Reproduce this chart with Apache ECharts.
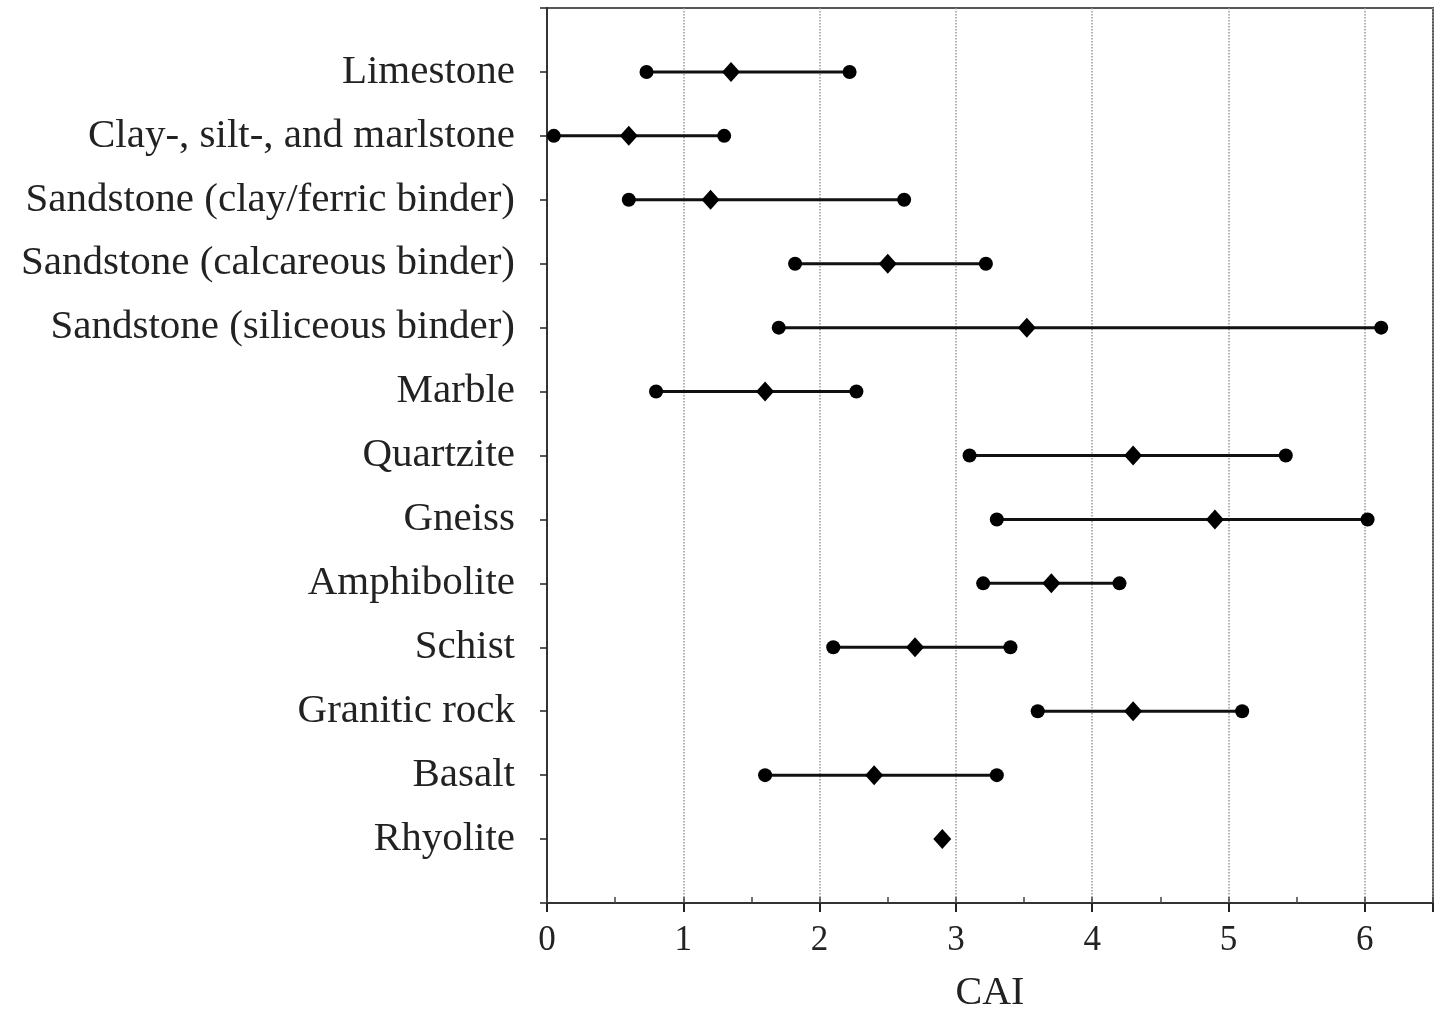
<!DOCTYPE html>
<html><head><meta charset="utf-8">
<script src="https://cdn.jsdelivr.net/npm/echarts@6/dist/echarts.min.js"></script>
<style>html,body{margin:0;padding:0;background:#fff}#c{width:1447px;height:1011px}</style>
</head><body><div id="c"></div>
<script>
const categories = ["Limestone","Clay-, silt-, and marlstone","Sandstone (clay/ferric binder)","Sandstone (calcareous binder)","Sandstone (siliceous binder)","Marble","Quartzite","Gneiss","Amphibolite","Schist","Granitic rock","Basalt","Rhyolite"];
const lowValues  = [0.73, 0.05, 0.60, 1.82, 1.70, 0.80, 3.10, 3.30, 3.20, 2.10, 3.60, 1.60, null];
const midValues  = [1.35, 0.60, 1.20, 2.50, 3.52, 1.60, 4.30, 4.90, 3.70, 2.70, 4.30, 2.40, 2.90];
const highValues = [2.22, 1.30, 2.62, 3.22, 6.12, 2.27, 5.42, 6.02, 4.20, 3.40, 5.10, 3.30, null];
const xTicks = [0,1,2,3,4,5,6];

const rangeData = [], endData = [], midData = [];
categories.forEach((c,i)=>{
  const y = i+1;
  if (lowValues[i]!=null && highValues[i]!=null) {
    rangeData.push([lowValues[i], highValues[i], y]);
    endData.push([lowValues[i], y]);
    endData.push([highValues[i], y]);
  }
  midData.push([midValues[i], y]);
});

const font = '"Liberation Serif","Times New Roman",serif';
const gridPos = {left:547,right:14,top:8,bottom:108,containLabel:false,outerBoundsMode:'none'};
const chart = echarts.init(document.getElementById('c'));
chart.setOption({
  animation:false,
  backgroundColor:'#fff',
  grid:[
    Object.assign({show:true,borderColor:'#555',borderWidth:2,backgroundColor:'transparent'},gridPos),
    Object.assign({show:false},gridPos)
  ],
  xAxis:[{
    gridIndex:0,type:'value',min:0,max:6.5,interval:1,position:'bottom',
    name:'CAI',nameLocation:'middle',nameGap:70,
    nameTextStyle:{fontFamily:font,fontSize:40,color:'#222'},
    axisLine:{show:true,onZero:false,lineStyle:{color:'#333',width:2}},
    axisTick:{show:true,length:9,lineStyle:{color:'#222',width:2}},
    axisLabel:{fontFamily:font,fontSize:35,color:'#222',margin:20,
      formatter:v=>xTicks.indexOf(v)>=0?String(v):''},
    splitLine:{show:true,lineStyle:{color:'#999',width:1.5,type:'dotted'}}
  },{
    gridIndex:1,type:'value',min:0,max:6.5,interval:0.5,position:'bottom',
    axisLine:{show:false,onZero:false},
    axisTick:{show:true,inside:true,length:6,lineStyle:{color:'#444',width:1.5}},
    axisLabel:{show:false},splitLine:{show:false}
  }],
  yAxis:[{
    gridIndex:0,type:'value',min:0,max:14,interval:1,inverse:true,
    axisLine:{show:true,onZero:false,lineStyle:{color:'#333',width:2}},
    axisTick:{show:true,length:7,lineStyle:{color:'#222',width:1.5}},
    axisLabel:{fontFamily:font,fontSize:41,color:'#222',margin:32,
      formatter:v=>(v>=1&&v<=categories.length)?categories[v-1]:''},
    splitLine:{show:false}
  },{
    gridIndex:1,type:'value',min:0,max:14,inverse:true,show:false,axisLine:{onZero:false}
  }],
  series:[{
    type:'custom',xAxisIndex:0,yAxisIndex:0,
    renderItem:(params,api)=>{
      const a = api.coord([api.value(0),api.value(2)]);
      const b = api.coord([api.value(1),api.value(2)]);
      return {type:'line',shape:{x1:a[0],y1:a[1],x2:b[0],y2:b[1]},style:{stroke:'#111',lineWidth:3}};
    },
    encode:{x:[0,1],y:2},
    data:rangeData,z:2
  },{
    type:'scatter',xAxisIndex:0,yAxisIndex:0,symbol:'circle',symbolSize:14,
    itemStyle:{color:'#000',opacity:1},data:endData,z:3
  },{
    type:'scatter',xAxisIndex:0,yAxisIndex:0,symbol:'diamond',symbolSize:[18,20],
    itemStyle:{color:'#000',opacity:1},data:midData,z:4
  }]
});
</script></body></html>
